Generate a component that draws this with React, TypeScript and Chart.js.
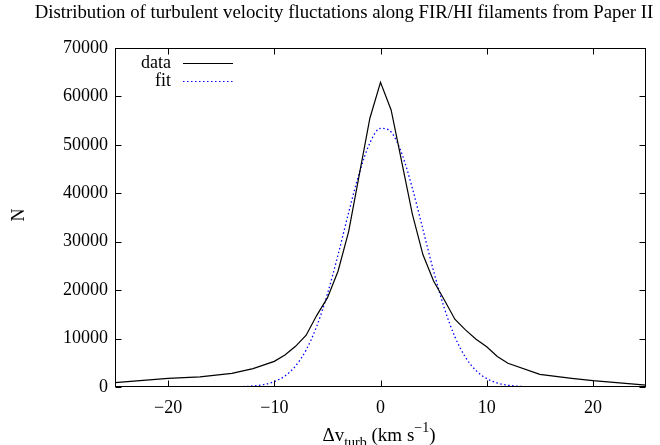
import { useEffect, useRef } from 'react';
import { Chart, registerables } from 'chart.js';

Chart.register(...registerables);

const titleText = 'Distribution of turbulent velocity fluctations along FIR/HI filaments from Paper II';
const yAxisLabel = 'N';
const legendLabels = ['data', 'fit'];

const dataX = [-25, -20, -17, -14, -12, -10, -9, -8, -7, -6, -5, -4, -3, -2, -1, 0, 1, 2, 3, 4, 5, 6, 7, 8, 9, 10, 11, 12, 15, 18, 20, 25];
const dataN = [900, 1800, 2100, 2800, 3800, 5300, 6600, 8400, 10700, 14800, 18400, 23900, 32100, 43800, 55500, 62900, 57200, 46500, 35700, 27300, 21900, 18000, 14000, 11800, 9850, 8300, 6300, 4900, 2600, 1800, 1300, 400];

const fitX = [-25, -16, -15, -14, -13, -12, -11, -10, -9, -8, -7, -6, -5, -4, -3, -2, -1, 0, 1, 2, 3, 4, 5, 6, 7, 8, 9, 10, 11, 12, 13, 14, 15, 16, 25];
const fitN = [0, 0, 5, 30, 84, 213, 507, 1113, 2277, 4330, 7655, 12575, 19215, 27280, 36010, 44170, 50390, 53420, 52650, 48230, 41060, 32510, 23920, 16350, 10390, 6150, 3380, 1727, 820, 361, 148, 56, 20, 0, 0];

const xTicks = [-20, -10, 0, 10, 20];
const yTicks = [0, 10000, 20000, 30000, 40000, 50000, 60000, 70000];

const FONT = "'Liberation Serif', 'Times New Roman', serif";
const FS = 18;

const fmtX = (v: number) => (v < 0 ? '\u2212' + Math.abs(v) : String(v));

const decor = {
  id: 'decor',
  afterDraw(chart: any) {
    const { ctx, chartArea: a, scales } = chart;
    ctx.save();
    const L = Math.round(a.left) + 0.5;
    const R = Math.round(a.right) - 0.5;
    const T = Math.round(a.top) + 0.5;
    const B = Math.round(a.bottom) - 0.5;
    ctx.strokeStyle = '#000';
    ctx.lineWidth = 1;
    ctx.strokeRect(L, T, R - L, B - T);
    const tl = 6;
    ctx.beginPath();
    for (const v of xTicks) {
      const px = Math.round(scales.x.getPixelForValue(v)) + 0.5;
      ctx.moveTo(px, B); ctx.lineTo(px, B - tl);
      ctx.moveTo(px, T); ctx.lineTo(px, T + tl);
    }
    for (const v of yTicks) {
      const py = Math.round(scales.y.getPixelForValue(v)) + 0.5;
      ctx.moveTo(L, py); ctx.lineTo(L + tl, py);
      ctx.moveTo(R, py); ctx.lineTo(R - tl, py);
    }
    ctx.stroke();

    ctx.fillStyle = '#000';
    // title
    ctx.font = `18.8px ${FONT}`;
    ctx.textAlign = 'center';
    ctx.textBaseline = 'middle';
    ctx.fillText(titleText, 344, 13);
    // y label
    ctx.font = `${FS}px ${FONT}`;
    ctx.save();
    ctx.translate(19, 215);
    ctx.rotate(-Math.PI / 2);
    ctx.fillText(yAxisLabel, 0, 0);
    ctx.restore();

    // x label with sub/superscript
    const LF = 19;
    const small = `${Math.round(LF * 0.72)}px ${FONT}`;
    const big = `${LF}px ${FONT}`;
    const parts = [
      { t: '\u0394v', f: big, dy: 0 },
      { t: 'turb', f: small, dy: 6 },
      { t: ' (km s', f: big, dy: 0 },
      { t: '\u22121', f: small, dy: -9 },
      { t: ')', f: big, dy: 0 },
    ];
    let total = 0;
    for (const p of parts) { ctx.font = p.f; total += ctx.measureText(p.t).width; }
    let x = 379 - total / 2;
    const base = 441;
    ctx.textAlign = 'left';
    ctx.textBaseline = 'alphabetic';
    for (const p of parts) {
      ctx.font = p.f;
      ctx.fillText(p.t, x, base + p.dy);
      x += ctx.measureText(p.t).width;
    }

    // legend
    ctx.font = `${FS}px ${FONT}`;
    ctx.textAlign = 'right';
    ctx.textBaseline = 'middle';
    ctx.fillText(legendLabels[0], 171, 63);
    ctx.fillText(legendLabels[1], 171, 81);
    ctx.beginPath();
    ctx.moveTo(183, 63.5); ctx.lineTo(233, 63.5);
    ctx.strokeStyle = '#000';
    ctx.stroke();
    ctx.beginPath();
    ctx.setLineDash([1.5, 2.5]);
    ctx.strokeStyle = '#0000ff';
    ctx.moveTo(183, 81.5); ctx.lineTo(233, 81.5);
    ctx.stroke();
    ctx.restore();
  },
};

export default function App() {
  const ref = useRef<HTMLCanvasElement>(null);
  useEffect(() => {
    const canvas = ref.current!;
    const chart = new Chart(canvas, {
      type: 'line',
      data: {
        datasets: [
          {
            label: legendLabels[0],
            data: dataX.map((x, i) => ({ x, y: dataN[i] })),
            borderColor: '#000',
            borderWidth: 1.2,
            pointRadius: 0,
            tension: 0,
            fill: false,
          },
          {
            label: legendLabels[1],
            data: fitX.map((x, i) => ({ x, y: fitN[i] })),
            borderColor: '#0000ff',
            borderWidth: 1.3,
            borderDash: [1.5, 2.5],
            pointRadius: 0,
            cubicInterpolationMode: 'monotone',
            fill: false,
          },
        ],
      },
      options: {
        responsive: false,
        animation: false,
        events: [],
        layout: { padding: { left: 0, right: 14, top: 48, bottom: 0 } },
        plugins: { legend: { display: false }, tooltip: { enabled: false }, title: { display: false } },
        scales: {
          x: {
            type: 'linear',
            min: -25,
            max: 25,
            afterBuildTicks: (s: any) => { s.ticks = xTicks.map((value) => ({ value })); },
            afterFit: (s: any) => { s.height = 58; },
            grid: { display: false, drawTicks: false },
            border: { display: false },
            ticks: { color: '#000', font: { family: FONT, size: FS }, padding: 10, maxRotation: 0, autoSkip: false, callback: (v: any) => fmtX(Number(v)) },
          },
          y: {
            type: 'linear',
            min: 0,
            max: 70000,
            afterBuildTicks: (s: any) => { s.ticks = yTicks.map((value) => ({ value })); },
            afterFit: (s: any) => { s.width = 115; },
            grid: { display: false, drawTicks: false },
            border: { display: false },
            ticks: { color: '#000', font: { family: FONT, size: FS }, padding: 7, autoSkip: false, callback: (v: any) => String(v) },
          },
        },
      },
      plugins: [decor],
    });
    return () => chart.destroy();
  }, []);
  return (
    <div style={{ position: 'fixed', left: 0, top: 0, width: 660, height: 445, background: '#fff' }}>
      <canvas ref={ref} width={660} height={445} style={{ display: 'block' }} />
    </div>
  );
}
